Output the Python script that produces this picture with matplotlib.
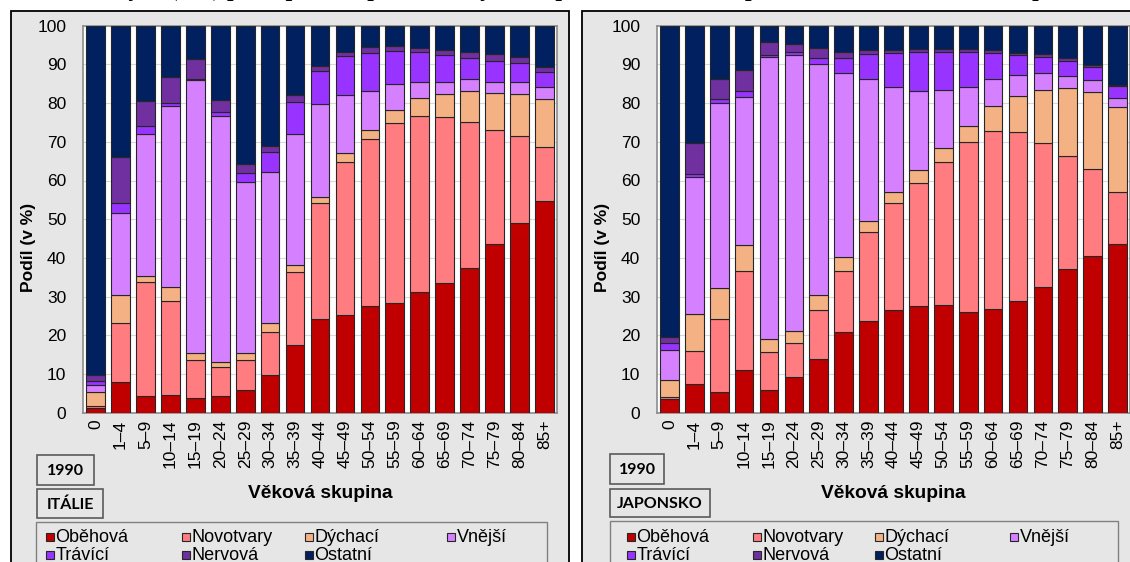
import matplotlib.pyplot as plt
from matplotlib.patches import Rectangle

# age groups and causes of death
groups = ["0", "1–4", "5–9", "10–14", "15–19", "20–24", "25–29", "30–34", "35–39",
          "40–44", "45–49", "50–54", "55–59", "60–64", "65–69", "70–74", "75–79",
          "80–84", "85+"]
causes = ["Oběhová", "Novotvary", "Dýchací", "Vnější", "Trávící", "Nervová", "Ostatní"]
colors = ["#C00000", "#FF7C80", "#F4B183", "#D580FF", "#9933FF", "#7030A0", "#002060"]

# Itálie 1990, podíl v %
ita_obehova = [1.3, 8.0, 4.3, 4.7, 3.9, 4.3, 5.9, 9.7, 17.5, 24.2, 25.2, 27.6, 28.4, 31.1, 33.6, 37.3, 43.5, 49.1, 54.8]
ita_novotvary = [0.4, 15.1, 29.6, 24.2, 9.7, 7.6, 7.7, 11.2, 18.9, 29.9, 39.7, 43.1, 46.4, 45.6, 42.7, 37.7, 29.5, 22.5, 13.8]
ita_dychaci = [3.6, 7.2, 1.5, 3.5, 1.7, 1.3, 1.7, 2.2, 1.8, 1.7, 2.3, 2.3, 3.3, 4.6, 6.1, 8.1, 9.5, 10.8, 12.4]
ita_vnejsi = [1.9, 21.2, 36.6, 46.9, 70.7, 63.5, 44.4, 39.0, 33.8, 23.9, 14.9, 10.0, 6.8, 4.2, 3.1, 3.1, 3.0, 3.1, 3.2]
ita_travici = [1.1, 2.8, 2.1, 0.6, 0.3, 1.1, 2.3, 5.3, 8.4, 8.6, 10.1, 10.0, 8.6, 7.6, 6.9, 5.5, 5.4, 4.8, 3.8]
ita_nervova = [1.4, 11.9, 6.5, 6.9, 5.0, 3.0, 2.3, 1.6, 1.7, 1.4, 1.1, 1.4, 1.3, 1.2, 1.3, 1.4, 1.8, 1.5, 1.2]
ita_ostatni = [90.3, 33.8, 19.4, 13.2, 8.7, 19.2, 35.7, 31.0, 17.9, 10.3, 6.7, 5.6, 5.2, 5.7, 6.3, 6.9, 7.3, 8.2, 10.8]

# Japonsko 1990, podíl v %
jpn_obehova = [3.5, 7.3, 5.3, 11.0, 5.9, 9.1, 14.0, 20.8, 23.7, 26.5, 27.6, 27.8, 25.9, 26.8, 28.9, 32.6, 37.1, 40.6, 43.6]
jpn_novotvary = [0.6, 8.6, 18.8, 25.7, 9.7, 8.8, 12.5, 15.9, 23.1, 27.8, 31.8, 37.1, 44.0, 46.0, 43.6, 37.0, 29.2, 22.3, 13.5]
jpn_dychaci = [4.3, 9.5, 8.0, 6.6, 3.5, 3.3, 3.8, 3.5, 2.7, 2.8, 3.3, 3.6, 4.3, 6.5, 9.4, 13.8, 17.5, 20.0, 22.0]
jpn_vnejsi = [7.8, 35.6, 47.9, 38.2, 72.9, 71.2, 59.8, 47.5, 36.7, 27.1, 20.5, 14.9, 10.0, 6.9, 5.4, 4.3, 3.2, 3.1, 2.1]
jpn_travici = [1.7, 0.7, 1.0, 1.5, 0.5, 0.9, 1.6, 3.9, 6.4, 8.7, 9.9, 9.7, 8.9, 6.8, 5.0, 4.1, 3.9, 3.4, 3.3]
jpn_nervova = [1.7, 8.1, 5.1, 5.6, 3.2, 2.1, 2.5, 1.7, 1.1, 0.8, 0.8, 0.8, 0.8, 0.7, 0.7, 0.9, 0.7, 0.4, 0.3]
jpn_ostatni = [80.4, 30.2, 13.9, 11.4, 4.3, 4.6, 5.8, 6.7, 6.3, 6.3, 6.1, 6.1, 6.1, 6.3, 7.0, 7.3, 8.4, 10.2, 15.2]

W, H = 1130, 562
plt.rcParams['font.family'] = ['Liberation Sans', 'DejaVu Sans']

fig = plt.figure(figsize=(W / 100, H / 100), dpi=100)


def fx(x):
    return x / W


def fy(y):
    return 1 - y / H


def box(x0, y0, x1, y1, **kw):
    r = Rectangle((fx(x0), fy(y1)), (x1 - x0) / W, (y1 - y0) / H,
                  transform=fig.transFigure, **kw)
    fig.add_artist(r)
    return r


# title (cut off at the top in the original, only descenders show)
fig.text(fx(565), fy(-4), "Struktura zemřelých (v %) podle příčin a podle věkových skupin, "
         "Itálie, 1990, Japonsko, 1990, Itálie, 2013, Japonsko, 2013",
         ha="center", va="baseline", fontsize=17, fontweight="bold", fontstyle="italic",
         family=["Liberation Serif", "DejaVu Serif"])

panels = [
    dict(left=11, right=569, ax_left=83, ax_right=557, ylab_x=29, year_box=(37, 455, 94, 485),
         name_box=(37, 489, 103, 518), name="ITÁLIE", leg=(36, 522, 547),
         cols=[46, 182, 305, 447],
         data=[ita_obehova, ita_novotvary, ita_dychaci, ita_vnejsi, ita_travici, ita_nervova, ita_ostatni]),
    dict(left=582, right=1140, ax_left=657, ax_right=1130, ylab_x=603, year_box=(610, 454, 664, 484),
         name_box=(610, 489, 710, 517), name="JAPONSKO", leg=(610, 521, 1118),
         cols=[627, 753, 875, 1010],
         data=[jpn_obehova, jpn_novotvary, jpn_dychaci, jpn_vnejsi, jpn_travici, jpn_nervova, jpn_ostatni]),
]

for p in panels:
    box(p["left"], 11, p["right"], 580, facecolor="#e6e6e6", edgecolor="black", lw=1.3, zorder=0)

    top, bottom = 25.7, 412.7
    ax = fig.add_axes([fx(p["ax_left"]), fy(bottom), (p["ax_right"] - p["ax_left"]) / W, (bottom - top) / H])
    ax.set_facecolor("white")
    x = range(len(groups))
    base = [0.0] * len(groups)
    for vals, c, name in zip(p["data"], colors, causes):
        ax.bar(x, vals, bottom=base, width=0.75, color=c, edgecolor="#262626", linewidth=0.8,
               label=name, zorder=3)
        base = [b + v for b, v in zip(base, vals)]
    ax.set_xlim(-0.5, len(groups) - 0.5)
    ax.set_ylim(0, 100)
    ax.set_yticks(range(0, 101, 10))
    ax.set_xticks(list(x))
    ax.set_xticklabels(groups, rotation=90, fontsize=12.5)
    ax.tick_params(axis="y", length=0, pad=12, labelsize=12.5)
    ax.tick_params(axis="x", length=0, pad=5)
    ax.grid(axis="y", color="#d9d9d9", lw=0.8, zorder=0)
    for s in ax.spines.values():
        s.set_color("#8c8c8c")
        s.set_linewidth(1.2)

    fig.text(fx(p["ylab_x"]), fy(247), "Podíl (v %)", rotation=90, ha="center", va="center",
             fontsize=12.5, fontweight="bold")
    fig.text(fx((p["ax_left"] + p["ax_right"]) / 2), fy(493), "Věková skupina", ha="center",
             va="center", fontsize=13.8, fontweight="bold")

    for (x0, y0, x1, y1), t in [(p["year_box"], "1990"), (p["name_box"], p["name"])]:
        box(x0, y0, x1, y1, facecolor="#e6e6e6", edgecolor="#5a5a5a", lw=1.2)
        fig.text(fx((x0 + x1) / 2), fy((y0 + y1) / 2 + 1), t, ha="center", va="center",
                 fontsize=11.5, fontweight="bold", family=["Lato", "DejaVu Sans"])

    lx0, ly0, lx1 = p["leg"]
    box(lx0, ly0, lx1, 580, facecolor="#e6e6e6", edgecolor="#808080", lw=1.0)
    for i, (name, c) in enumerate(zip(causes, colors)):
        row, col = divmod(i, 4)
        cx = p["cols"][col]
        cy = 537 + row * 17.5
        box(cx, cy - 4, cx + 8, cy + 4, facecolor=c, edgecolor="#262626", lw=0.8)
        fig.text(fx(cx + 9.5), fy(cy + 0.5), name, ha="left", va="center", fontsize=13)

fig.savefig("out.png", dpi=100)
